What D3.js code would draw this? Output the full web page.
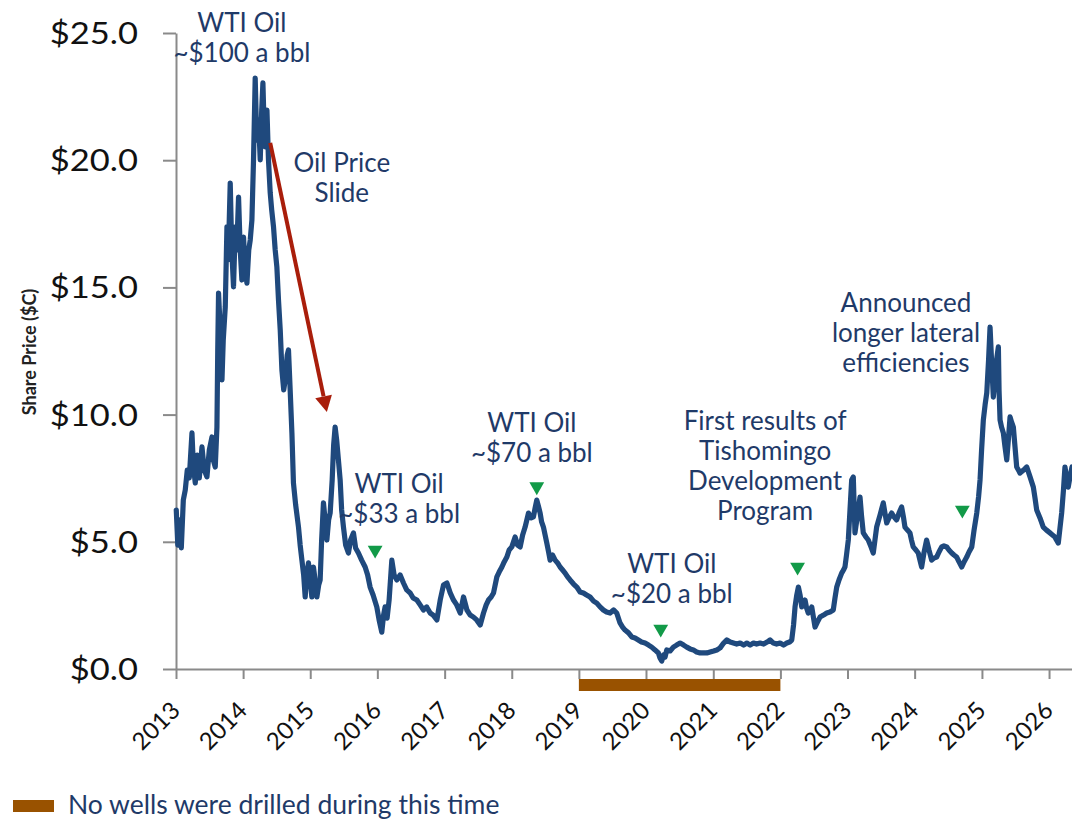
<!DOCTYPE html>
<html>
<head>
<meta charset="utf-8">
<script src="https://cdn.jsdelivr.net/npm/d3@7"></script>
<style>
  body { margin: 0; background: #ffffff; }
  svg { display: block; }
</style>
</head>
<body>
<svg id="chart" width="1072" height="820"></svg>
<script>
// ---------------- DATA ----------------
const yearTicks = [2013,2014,2015,2016,2017,2018,2019,2020,2021,2022,2023,2024,2025,2026];
const priceTicks = [0, 5, 10, 15, 20, 25];
const axisStartYear = 2013;
const axisEndYear = 2026.342;
const priceMax = 25;

// share price series: dates as decimal years, values in $C
const priceDates = [
2013.004,2013.027,2013.049,2013.079,2013.109,2013.138,2013.168,2013.198,2013.238,2013.258,
2013.287,2013.317,2013.347,2013.387,2013.421,2013.461,2013.496,2013.536,2013.555,2013.585,
2013.610,2013.622,2013.634,2013.659,2013.685,2013.704,2013.734,2013.759,2013.778,2013.808,
2013.831,2013.857,2013.883,2013.905,2013.932,2013.957,2013.982,2014.006,2014.032,2014.057,
2014.084,2014.106,2014.131,2014.155,2014.180,2014.203,2014.230,2014.255,2014.277,2014.295,
2014.314,2014.329,2014.355,2014.378,2014.404,2014.426,2014.453,2014.478,2014.503,2014.527,
2014.553,2014.578,2014.605,2014.627,2014.657,2014.676,2014.701,2014.727,2014.750,2014.783,
2014.825,2014.850,2014.876,2014.902,2014.925,2014.947,2014.974,2014.999,2015.024,2015.048,
2015.073,2015.099,2015.126,2015.148,2015.170,2015.197,2015.222,2015.248,2015.274,2015.297,
2015.327,2015.349,2015.371,2015.394,2015.420,2015.446,2015.468,2015.495,2015.528,2015.569,
2015.602,2015.644,2015.676,2015.718,2015.766,2015.818,2015.855,2015.892,2015.937,2015.992,
2016.026,2016.066,2016.093,2016.115,2016.145,2016.175,2016.215,2016.249,2016.290,2016.339,
2016.388,2016.436,2016.488,2016.532,2016.587,2016.636,2016.686,2016.733,2016.785,2016.830,
2016.885,2016.934,2016.983,2017.034,2017.083,2017.132,2017.180,2017.232,2017.281,2017.332,
2017.381,2017.430,2017.477,2017.530,2017.579,2017.619,2017.653,2017.693,2017.728,2017.778,
2017.812,2017.853,2017.887,2017.927,2017.961,2018.001,2018.050,2018.088,2018.125,2018.162,
2018.199,2018.249,2018.289,2018.323,2018.348,2018.373,2018.400,2018.423,2018.445,2018.472,
2018.497,2018.522,2018.549,2018.571,2018.609,2018.646,2018.683,2018.720,2018.758,2018.795,
2018.832,2018.869,2018.921,2018.969,2019.018,2019.067,2019.115,2019.167,2019.219,2019.267,
2019.316,2019.365,2019.413,2019.465,2019.517,2019.564,2019.613,2019.651,2019.688,2019.740,
2019.788,2019.837,2019.886,2019.933,2019.986,2020.038,2020.085,2020.134,2020.184,2020.209,
2020.234,2020.261,2020.283,2020.309,2020.358,2020.407,2020.455,2020.507,2020.559,2020.606,
2020.655,2020.704,2020.752,2020.804,2020.856,2020.904,2020.953,2021.005,2021.053,2021.102,
2021.154,2021.202,2021.251,2021.300,2021.348,2021.400,2021.452,2021.500,2021.549,2021.598,
2021.645,2021.697,2021.750,2021.802,2021.846,2021.895,2021.943,2021.995,2022.047,2022.095,
2022.137,2022.169,2022.196,2022.218,2022.244,2022.268,2022.293,2022.318,2022.345,2022.367,
2022.390,2022.416,2022.442,2022.467,2022.494,2022.516,2022.553,2022.590,2022.643,2022.690,
2022.739,2022.788,2022.813,2022.839,2022.873,2022.913,2022.940,2022.962,2022.985,2023.012,
2023.037,2023.062,2023.086,2023.111,2023.149,2023.186,2023.208,2023.235,2023.275,2023.309,
2023.350,2023.384,2023.409,2023.434,2023.484,2023.533,2023.558,2023.584,2023.618,2023.658,
2023.692,2023.732,2023.767,2023.806,2023.833,2023.856,2023.893,2023.930,2023.953,2023.979,
2024.019,2024.053,2024.079,2024.104,2024.138,2024.178,2024.213,2024.253,2024.287,2024.327,
2024.362,2024.402,2024.436,2024.476,2024.510,2024.551,2024.585,2024.625,2024.660,2024.700,
2024.734,2024.774,2024.808,2024.849,2024.883,2024.923,2024.950,2024.972,2024.995,2025.021,
2025.047,2025.072,2025.099,2025.121,2025.143,2025.170,2025.196,2025.218,2025.245,2025.255,
2025.270,2025.292,2025.319,2025.344,2025.370,2025.397,2025.419,2025.441,2025.468,2025.493,
2025.518,2025.545,2025.567,2025.620,2025.668,2025.717,2025.766,2025.791,2025.816,2025.865,
2025.914,2025.962,2026.014,2026.051,2026.088,2026.111,2026.138,2026.163,2026.188,2026.215,
2026.237,2026.260,2026.286,2026.312,2026.342
];
const priceValues = [
6.25,4.87,5.86,4.76,6.64,7.04,7.82,7.51,9.28,8.02,
7.31,8.41,7.51,8.73,7.82,7.55,8.61,9.12,8.22,7.94,
9.51,12.54,14.78,13.33,11.36,12.93,14.23,17.38,16.08,19.10,
16.47,15.02,17.38,16.47,18.55,16.47,15.29,16.98,15.68,15.17,
16.47,16.86,17.65,20.01,23.23,20.79,21.58,20.01,21.97,23.04,
21.19,20.52,21.97,20.01,18.71,18.04,17.38,16.47,15.80,14.51,
13.33,11.75,10.97,11.36,12.34,12.54,10.97,9.28,7.31,6.45,
5.58,4.87,4.28,3.70,2.83,3.70,4.17,3.50,2.83,4.01,
3.50,2.83,3.30,3.50,5.07,6.53,5.86,5.07,5.86,6.13,
7.43,8.81,9.51,9.00,8.22,7.43,6.25,5.58,4.87,4.56,
5.07,5.35,4.76,4.56,4.28,4.01,3.70,3.22,2.91,2.44,
1.93,1.45,2.12,2.44,2.00,2.71,4.28,3.70,3.50,3.70,
3.38,3.11,2.99,2.79,2.71,2.52,2.32,2.44,2.20,2.12,
1.93,2.71,3.30,3.38,2.99,2.71,2.52,2.20,2.83,2.32,
2.12,2.04,1.93,1.73,2.20,2.52,2.71,2.83,2.99,3.62,
3.81,4.01,4.21,4.40,4.68,4.80,5.19,4.87,4.80,5.27,
5.58,6.13,5.94,5.98,6.33,6.64,6.37,6.13,5.78,5.58,
5.27,4.95,4.60,4.28,4.48,4.28,4.17,4.01,3.89,3.77,
3.62,3.50,3.34,3.22,3.03,2.99,2.91,2.83,2.67,2.59,
2.44,2.32,2.24,2.20,2.32,2.20,1.81,1.65,1.53,1.42,
1.26,1.22,1.14,1.06,1.02,0.94,0.86,0.75,0.63,0.43,
0.31,0.55,0.47,0.75,0.71,0.86,0.94,1.02,0.94,0.86,
0.79,0.75,0.67,0.63,0.63,0.63,0.67,0.71,0.75,0.83,
1.02,1.14,1.06,1.02,0.98,1.02,0.94,1.02,0.94,1.02,
0.98,1.02,0.98,1.06,1.14,1.02,0.98,1.02,0.94,1.02,
1.06,1.14,1.73,2.44,2.91,3.22,2.91,2.44,2.56,2.71,
2.40,2.20,2.32,2.44,2.00,1.65,1.85,2.04,2.12,2.20,
2.24,2.32,2.79,3.22,3.50,3.77,3.89,4.01,4.48,5.07,
6.25,7.43,7.55,5.35,6.05,6.76,6.05,5.35,5.19,5.07,
4.80,4.56,5.07,5.58,6.05,6.53,6.13,5.74,5.94,6.13,
5.98,5.86,6.13,6.37,5.98,5.58,5.46,5.35,5.07,4.80,
4.68,4.56,4.28,4.01,4.56,5.07,4.68,4.28,4.36,4.40,
4.60,4.80,4.84,4.80,4.68,4.56,4.48,4.40,4.21,4.01,
4.21,4.40,4.60,4.80,5.46,6.13,6.76,7.43,8.61,9.79,
10.38,10.85,12.15,13.44,12.15,10.69,11.36,12.15,12.66,10.97,
9.79,9.51,9.28,8.73,8.22,9.12,9.91,9.71,9.51,8.73,
7.94,7.82,7.70,7.82,7.94,7.55,7.15,6.72,6.25,5.94,
5.58,5.46,5.35,5.27,5.19,5.07,4.95,5.54,6.13,7.04,
7.94,7.55,7.15,7.55,7.94
];

// green "WTI" markers
const markerDates  = [2015.967, 2018.373, 2020.219, 2022.256, 2024.709];
const markerValues = [4.68, 7.17, 1.57, 4.01, 6.25];

// "No wells were drilled" period
const noDrillStart = 2019;
const noDrillEnd = 2022;
const legendLabel = "No wells were drilled during this time";

// Oil price slide arrow (from, to)
const arrowDates  = [2014.404, 2015.248];
const arrowValues = [20.68, 10.10];

// annotations: anchor date, anchor value (first baseline), lines
const noteDates  = [2013.982, 2015.471, 2016.324, 2018.299, 2020.383, 2021.772, 2023.871];
const noteValues = [25.04, 19.54, 6.91, 9.33, 3.77, 9.40, 14.05];
const noteLines  = [
  ["WTI Oil", "~$100 a bbl"],
  ["Oil Price", "Slide"],
  ["WTI Oil", "~$33 a bbl"],
  ["WTI Oil", "~$70 a bbl"],
  ["WTI Oil", "~$20 a bbl"],
  ["First results of", "Tishomingo", "Development", "Program"],
  ["Announced", "longer lateral", "efficiencies"]
];
const yAxisTitle = "Share Price ($C)";

// ---------------- HELPERS ----------------
function decYear(yr) {
  const Y = Math.floor(yr);
  const s = new Date(Y, 0, 1), e = new Date(Y + 1, 0, 1);
  return new Date(+s + (yr - Y) * (e - s));
}

// ---------------- CHART ----------------
const svg = d3.select("#chart");
const plotLeft = 176, plotRight = 1072, plotTop = 33, plotBottom = 669;

const x = d3.scaleTime().domain([decYear(axisStartYear), decYear(axisEndYear)]).range([plotLeft, plotRight]);
const y = d3.scaleLinear().domain([0, priceMax]).range([plotBottom, plotTop]);

const navy = "#1f3a68";
const axisGrey = "#8a8a8a";

// Y axis
const yAxis = svg.append("g")
  .attr("transform", `translate(${plotLeft},0)`)
  .call(d3.axisLeft(y).tickValues(priceTicks).tickSize(13).tickSizeOuter(0)
    .tickFormat(d => "$" + d3.format(".1f")(d)));
yAxis.select(".domain").attr("stroke", axisGrey).attr("stroke-width", 2);
yAxis.selectAll(".tick line").attr("stroke", axisGrey).attr("stroke-width", 2);
yAxis.selectAll(".tick text")
  .attr("x", -38 / 1.15)
  .attr("dy", "0.35em")
  .attr("transform", "scale(1.15,1)")
  .style("font-family", "Lato, 'Open Sans', sans-serif")
  .style("font-size", "30px")
  .attr("fill", "#111");

// X axis
const xAxis = svg.append("g")
  .attr("transform", `translate(0,${plotBottom})`)
  .call(d3.axisBottom(x).tickValues(yearTicks.map(t => decYear(t))).tickSize(10).tickSizeOuter(0)
    .tickFormat(d3.timeFormat("%Y")));
xAxis.select(".domain").attr("stroke", axisGrey).attr("stroke-width", 2);
xAxis.selectAll(".tick line").attr("stroke", axisGrey).attr("stroke-width", 2);
xAxis.selectAll(".tick text")
  .attr("x", 0).attr("y", 0).attr("dy", 0)
  .attr("transform", "translate(5,43) rotate(-45)")
  .style("text-anchor", "end")
  .style("font-family", "Lato, 'Open Sans', sans-serif")
  .style("font-size", "24px")
  .attr("fill", "#111");

// Y axis title
svg.append("text")
  .attr("transform", `translate(36,${(y(0) + y(25)) / 2 + 1}) rotate(-90)`)
  .attr("text-anchor", "middle")
  .style("font-family", "Lato, 'Open Sans', sans-serif")
  .style("font-weight", "bold")
  .style("font-size", "18px")
  .attr("fill", "#222")
  .text(yAxisTitle);

// No-drill bar under the axis
svg.append("rect")
  .attr("x", x(decYear(noDrillStart)))
  .attr("width", x(decYear(noDrillEnd)) - x(decYear(noDrillStart)))
  .attr("y", plotBottom + 10)
  .attr("height", 12)
  .attr("fill", "#995200");

// Price line
const series = priceDates.map((d, i) => ({ date: decYear(d), v: priceValues[i] }));
svg.append("path")
  .datum(series)
  .attr("fill", "none")
  .attr("stroke", "#1f497d")
  .attr("stroke-width", 5.2)
  .attr("stroke-linejoin", "round")
  .attr("stroke-linecap", "round")
  .attr("d", d3.line().x(d => x(d.date)).y(d => y(d.v)));

// Green markers
svg.selectAll(".marker")
  .data(markerDates.map((d, i) => ({ date: decYear(d), v: markerValues[i] })))
  .join("path")
  .attr("class", "marker")
  .attr("d", d3.symbol(d3.symbolTriangle, 95))
  .attr("transform", d => `translate(${x(d.date)},${y(d.v)}) rotate(180)`)
  .attr("fill", "#129a48");

// Red arrow
{
  const x1 = x(decYear(arrowDates[0])), y1 = y(arrowValues[0]);
  const x2 = x(decYear(arrowDates[1])), y2 = y(arrowValues[1]);
  const ang = Math.atan2(y2 - y1, x2 - x1);
  const headLen = 16, headHalf = 8.5;
  const bx = x2 - headLen * Math.cos(ang), by = y2 - headLen * Math.sin(ang);
  svg.append("line")
    .attr("x1", x1).attr("y1", y1).attr("x2", bx).attr("y2", by)
    .attr("stroke", "#a91e0b").attr("stroke-width", 4);
  const px = -Math.sin(ang), py = Math.cos(ang);
  svg.append("path")
    .attr("d", `M${x2},${y2}L${bx + px * headHalf},${by + py * headHalf}L${bx - px * headHalf},${by - py * headHalf}Z`)
    .attr("fill", "#a91e0b");
}

// Annotations
noteLines.forEach((lines, i) => {
  const cx = x(decYear(noteDates[i]));
  const cy = y(noteValues[i]);
  const t = svg.append("text")
    .attr("text-anchor", "middle")
    .style("font-family", "Lato, 'Open Sans', sans-serif")
    .style("font-size", "26px")
    .attr("fill", navy);
  lines.forEach((ln, j) => {
    t.append("tspan").attr("x", cx).attr("y", cy + j * 30).text(ln);
  });
});

// Legend
const lg = svg.append("g").attr("transform", "translate(13,800)");
lg.append("rect").attr("width", 41).attr("height", 12).attr("fill", "#995200");
lg.append("text")
  .attr("x", 55).attr("y", 14)
  .style("font-family", "Lato, 'Open Sans', sans-serif")
  .style("font-size", "26.5px")
  .attr("fill", navy)
  .text(legendLabel);
</script>
</body>
</html>
